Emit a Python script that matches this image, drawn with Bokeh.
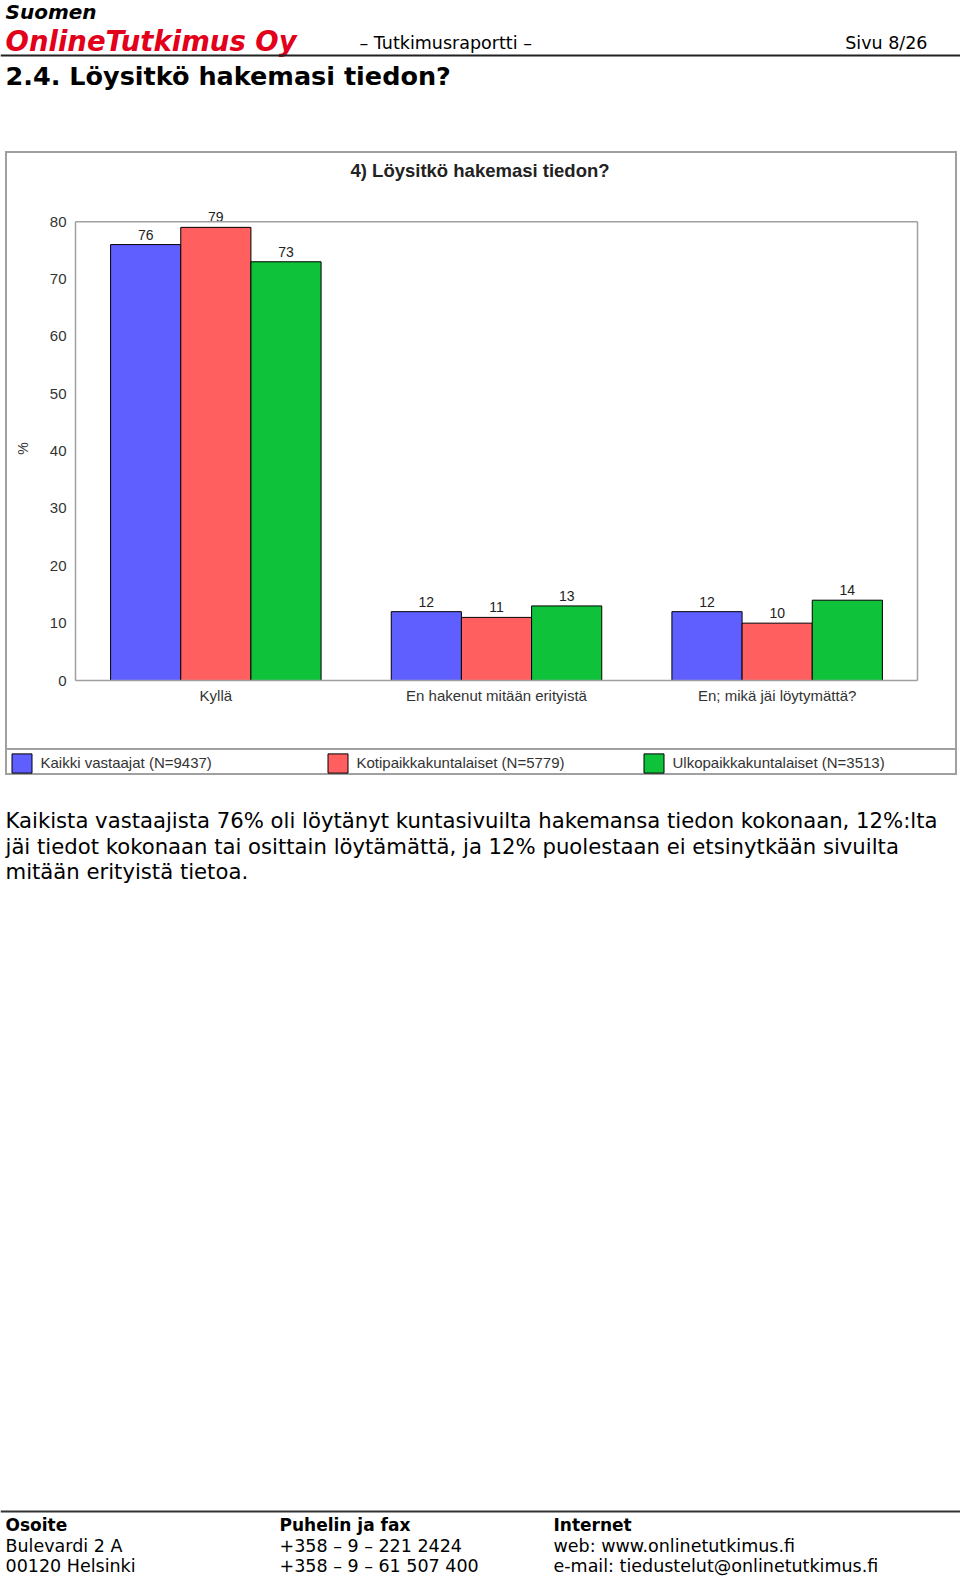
from bokeh.plotting import figure
from bokeh.models import (Range1d, FactorRange, ColumnDataSource, LabelSet, Legend,
                          LegendItem, FixedTicker, LinearAxis, Span)
from bokeh.transform import dodge
from bokeh.embed import file_html
from bokeh.resources import INLINE
from bokeh.core.properties import value

# ---------------- data ----------------
categories = ["Kyllä", "En hakenut mitään erityistä", "En; mikä jäi löytymättä?"]
series_names = ["Kaikki vastaajat (N=9437)", "Kotipaikkakuntalaiset (N=5779)",
                "Ulkopaikkakuntalaiset (N=3513)"]
kaikki = [76, 12, 12]
koti = [79, 11, 10]
ulko = [73, 13, 14]
y_ticks = [0, 10, 20, 30, 40, 50, 60, 70, 80]
y_max = 80
chart_title = "4) Löysitkö hakemasi tiedon?"

colors = ["#5F5FFF", "#FF5F5F", "#0EC23A"]
GRAY = "#a0a0a0"
CH = "Liberation Sans"
PF = "DejaVu Sans"

# ---------------- header ----------------
head = figure(width=960, height=151, x_range=Range1d(0, 960), y_range=Range1d(151, 0),
              output_backend="svg", toolbar_location=None, min_border=0,
              x_axis_location=None, y_axis_location=None, outline_line_color=None)
head.grid.visible = False
head.text(x=[5], y=[11], text=["Suomen"], text_font=value(PF), text_font_size=value("20px"),
          text_font_style="bold italic", text_color="black", text_baseline="alphabetic")
head.text(x=[5], y=[40], text=["OnlineTutkimus Oy"], text_font=value(PF),
          text_font_size=value("27.5px"), text_font_style="bold italic", text_color="#E2001A",
          text_baseline="alphabetic")
head.text(x=[359], y=[42], text=["– Tutkimusraportti –"], text_font=value(PF),
          text_font_size=value("17.5px"), text_color="black", text_baseline="alphabetic")
head.text(x=[927], y=[42], text=["Sivu 8/26"], text_font=value(PF),
          text_font_size=value("17.5px"), text_color="black", text_baseline="alphabetic",
          text_align="right")
head.segment(x0=[0], y0=[55], x1=[960], y1=[55], line_color="#222222", line_width=2)
head.text(x=[5], y=[75.5], text=["2.4. Löysitkö hakemasi tiedon?"], text_font=value(PF),
          text_font_size=value("25.5px"), text_font_style="bold", text_color="black",
          text_baseline="alphabetic")

# ---------------- chart ----------------
p = figure(width=948, height=595, x_range=FactorRange(factors=categories, range_padding=0),
           y_range=Range1d(0, 86.3), output_backend="svg", toolbar_location=None,
           min_border_left=68, min_border_right=42, min_border_top=32, min_border_bottom=70,
           outline_line_color=None)
p.styles = {"border-top": "2px solid " + GRAY, "border-left": "2px solid " + GRAY,
            "border-right": "2px solid " + GRAY, "box-sizing": "content-box",
            "margin-left": "5px"}
p.grid.grid_line_color = None

src = ColumnDataSource(dict(
    cat=categories, kaikki=kaikki, koti=koti, ulko=ulko,
    kaikki_t=[str(v) for v in kaikki], koti_t=[str(v) for v in koti],
    ulko_t=[str(v) for v in ulko]))

for i, (col, off) in enumerate([("kaikki", -0.25), ("koti", 0.0), ("ulko", 0.25)]):
    p.vbar(x=dodge("cat", off, range=p.x_range), top=col, width=0.25, source=src,
           fill_color=colors[i], line_color="black", line_width=1)
    p.add_layout(LabelSet(x=dodge("cat", off, range=p.x_range), y=col, text=col + "_t",
                          source=src, text_align="center", text_baseline="bottom",
                          y_offset=5, text_font=value(CH), text_font_size="14px",
                          text_color="#222222"))

p.add_layout(Span(location=y_max, dimension="width", line_color=GRAY, line_width=1.5))

p.title.text = chart_title
p.title.align = "left"
p.title.offset = 275
p.title.standoff = 9
p.title.text_font = CH
p.title.text_font_size = "18.5px"
p.title.text_font_style = "bold"
p.title.text_color = "#222222"

p.yaxis.ticker = FixedTicker(ticks=y_ticks)
p.yaxis.bounds = (0, y_max)
p.yaxis.axis_line_color = GRAY
p.yaxis.axis_line_width = 1.5
p.yaxis.major_tick_line_color = None
p.yaxis.minor_tick_line_color = None
p.yaxis.major_tick_out = 0
p.yaxis.major_tick_in = 0
p.yaxis.major_label_standoff = 9
p.yaxis.major_label_text_font = CH
p.yaxis.major_label_text_font_size = "15px"
p.yaxis.major_label_text_color = "#333333"
# non-breaking spaces centre the "%" on the 0-80 part of the axis
p.yaxis.axis_label = "%" + "\u00a0" * 8
p.yaxis.axis_label_text_font = CH
p.yaxis.axis_label_text_font_size = "14px"
p.yaxis.axis_label_text_font_style = "normal"
p.yaxis.axis_label_text_color = "#333333"
p.yaxis.axis_label_standoff = 16

right_axis = LinearAxis(ticker=FixedTicker(ticks=[]), bounds=(0, y_max),
                        axis_line_color=GRAY, axis_line_width=1.5,
                        major_tick_line_color=None, minor_tick_line_color=None,
                        major_label_text_font_size="0px")
p.add_layout(right_axis, "right")

p.xaxis.axis_line_color = GRAY
p.xaxis.axis_line_width = 1.5
p.xaxis.major_tick_line_color = None
p.xaxis.major_tick_out = 0
p.xaxis.major_tick_in = 0
p.xaxis.major_label_standoff = 6
p.xaxis.major_label_text_font = CH
p.xaxis.major_label_text_font_size = "15px"
p.xaxis.major_label_text_color = "#333333"

# ---------------- legend strip (inside the same grey box) ----------------
strip = figure(width=948, height=23, x_range=Range1d(0, 948), y_range=Range1d(0, 23),
               output_backend="svg", toolbar_location=None, min_border=0,
               x_axis_location=None, y_axis_location=None, outline_line_color=None)
strip.styles = {"border": "2px solid " + GRAY, "box-sizing": "content-box",
                "margin-left": "5px"}
strip.grid.visible = False
legend_src = ColumnDataSource(dict(x=[-100], top=[1]))  # legend swatch proxies, off-view
proxies = [strip.vbar(x="x", top="top", width=1, source=legend_src, fill_color=c,
                      line_color="black", line_width=1) for c in colors]
legend = Legend(items=[LegendItem(label=series_names[i], renderers=[proxies[i]])
                       for i in range(3)],
                location=(1.5, 2.5), orientation="horizontal", glyph_width=25,
                glyph_height=24, label_standoff=7, label_width=276, spacing=8, padding=0,
                margin=0, border_line_color=None, background_fill_alpha=0,
                label_text_font=CH, label_text_font_size="15px", label_text_color="#333333")
strip.add_layout(legend)

# ---------------- body and footer ----------------
foot = figure(width=960, height=801, x_range=Range1d(0, 960), y_range=Range1d(801, 0),
              output_backend="svg", toolbar_location=None, min_border=0,
              x_axis_location=None, y_axis_location=None, outline_line_color=None)
foot.grid.visible = False
body_lines = ["Kaikista vastaajista 76% oli löytänyt kuntasivuilta hakemansa tiedon kokonaan, 12%:lta",
              "jäi tiedot kokonaan tai osittain löytämättä, ja 12% puolestaan ei etsinytkään sivuilta",
              "mitään erityistä tietoa."]
foot.text(x=[5, 5, 5], y=[45, 71, 96], text=body_lines, text_font=value(PF),
          text_font_size=value("21.2px"), text_color="black", text_baseline="alphabetic")
foot.segment(x0=[0], y0=[736], x1=[960], y1=[736], line_color="#333333", line_width=2)
foot.text(x=[5, 279, 553], y=[749, 749, 749], text=["Osoite", "Puhelin ja fax", "Internet"],
          text_font=value(PF), text_font_size=value("17px"), text_font_style="bold",
          text_color="black", text_baseline="alphabetic")
foot.text(x=[5, 279, 553, 5, 279, 553], y=[770, 770, 770, 790, 790, 790],
          text=["Bulevardi 2 A", "+358 – 9 – 221 2424", "web: www.onlinetutkimus.fi",
                "00120 Helsinki", "+358 – 9 – 61 507 400", "e-mail: tiedustelut@onlinetutkimus.fi"],
          text_font=value(PF), text_font_size=value("17.5px"), text_color="black",
          text_baseline="alphabetic")

open("out.html", "w").write(file_html([head, p, strip, foot], INLINE))
